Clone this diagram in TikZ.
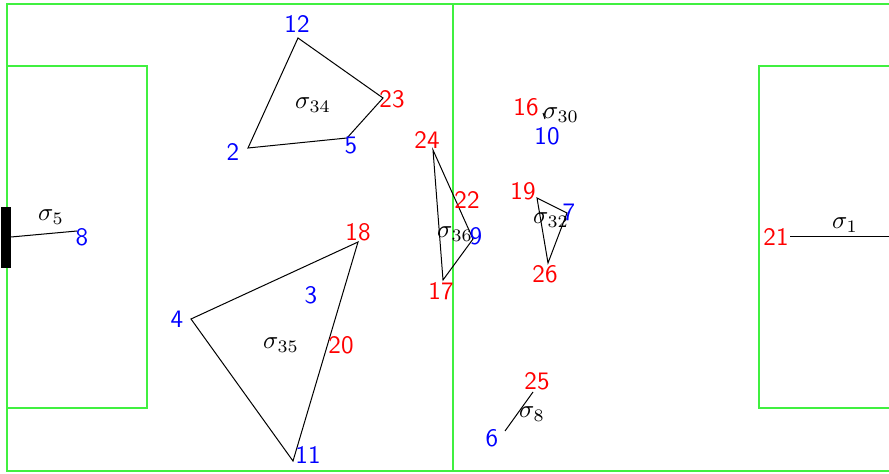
\documentclass[tikz,border=0pt]{standalone}
\usetikzlibrary{positioning}
\definecolor{pitchgreen}{HTML}{40F040}

\begin{document}
\begin{tikzpicture}[
    x=0.14mm, y=-0.14mm,
    every node/.style={inner sep=0pt},
    pitch/.style={draw=pitchgreen, line width=0.45pt},
    edge/.style={draw=black, line width=0.4pt},
    home/.style={font=\sffamily, text=blue},
    away/.style={font=\sffamily, text=red},
    simplex/.style={font=\normalsize}
]
    \clip (0,0) rectangle (889,474);

    % Pitch
    \draw[pitch] (7,4) rectangle (899,471);
    \draw[pitch] (453,4) -- (453,471);
    \draw[pitch] (7,66) rectangle (147,408);
    \draw[pitch] (759,66) rectangle (899,408);
    \fill[black] (1,207) rectangle (11,268);

    % Vertices
    \coordinate (goal) at (11,237);
    \coordinate (p8) at (77,231);
    \coordinate (p12) at (298,38);
    \coordinate (p23) at (383,98);
    \coordinate (p5) at (347,138);
    \coordinate (p2) at (248,148);
    \coordinate (p18) at (358,242);
    \coordinate (p4) at (191,319);
    \coordinate (p11) at (293,461);
    \coordinate (p24) at (433,150);
    \coordinate (p9) at (473,239);
    \coordinate (p17) at (443,280);
    \coordinate (p16) at (543,113);
    \coordinate (p10) at (545,119);
    \coordinate (p19) at (537,198);
    \coordinate (p7) at (567,213);
    \coordinate (p26) at (548,263);
    \coordinate (p25) at (533,392);
    \coordinate (p6) at (505,431);
    \coordinate (p21) at (790,237);
    \coordinate (right) at (889,237);

    % Simplices
    \draw[edge] (goal) -- (p8);
    \draw[edge] (p12) -- (p23) -- (p5) -- (p2) -- cycle;
    \draw[edge] (p18) -- (p4) -- (p11) -- cycle;
    \draw[edge] (p24) -- (p9) -- (p17) -- cycle;
    \draw[edge] (p16) -- (p10);
    \draw[edge] (p19) -- (p7) -- (p26) -- cycle;
    \draw[edge] (p25) -- (p6);
    \draw[edge] (p21) -- (right);

    % Player labels
    \node[home] (n8) at (82,237) {8};
    \node[home] (n12) at (297,24) {12};
    \node[away] (n23) at (392,99) {23};
    \node[home] (n5) at (351,146) {5};
    \node[home] (n2) at (233,152) {2};
    \node[away] (n18) at (358,232) {18};
    \node[home] (n4) at (177,319) {4};
    \node[home] (n11) at (308,455) {11};
    \node[away] (n20) at (341,345) {20};
    \node[home] (n3) at (311,295) {3};
    \node[away] (n24) at (427,140) {24};
    \node[away] (n22) at (467,200) {22};
    \node[home] (n9) at (476,236) {9};
    \node[away] (n17) at (441,291) {17};
    \node[away] (n16) at (526,107) {16};
    \node[home] (n10) at (547,136) {10};
    \node[away] (n19) at (523,191) {19};
    \node[home] (n7) at (569,212) {7};
    \node[away] (n26) at (545,274) {26};
    \node[away] (n25) at (537,381) {25};
    \node[home] (n6) at (492,438) {6};
    \node[away] (n21) at (776,237) {21};

    % Simplex labels
    \node[simplex] (s5) at (51,217) {$\sigma_5$};
    \node[simplex] (s34) at (313,105) {$\sigma_{34}$};
    \node[simplex] (s35) at (281,345) {$\sigma_{35}$};
    \node[simplex] (s36) at (455,234) {$\sigma_{36}$};
    \node[simplex] (s30) at (561,115) {$\sigma_{30}$};
    \node[simplex] (s32) at (551,220) {$\sigma_{32}$};
    \node[simplex] (s8) at (532,414) {$\sigma_8$};
    \node[simplex] (s1) at (845,225) {$\sigma_1$};
\end{tikzpicture}
\end{document}
